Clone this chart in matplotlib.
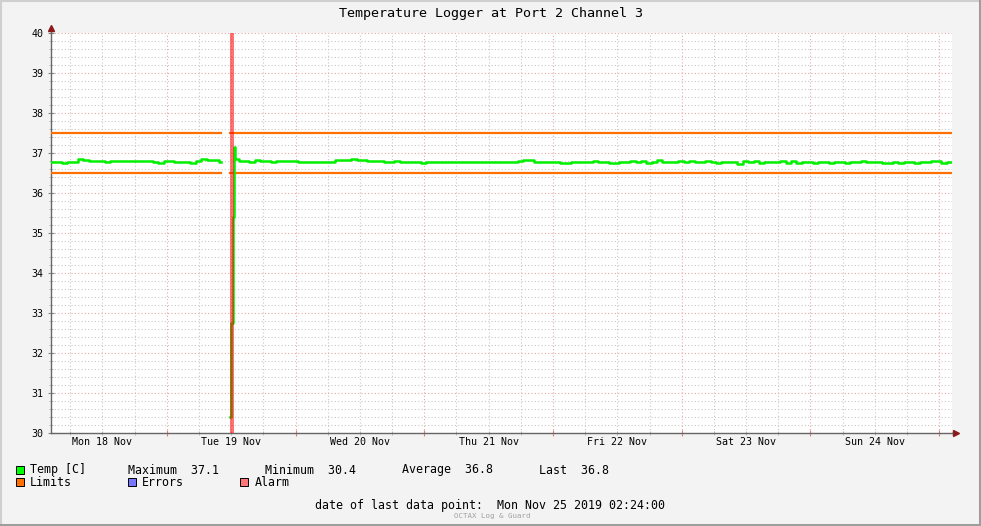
import matplotlib
matplotlib.use('Agg')
import matplotlib.pyplot as plt
import matplotlib.dates as mdates
from matplotlib.ticker import MultipleLocator
from matplotlib.lines import Line2D
from matplotlib.patches import Rectangle
import numpy as np
from datetime import datetime, timedelta

plt.rcParams['font.family'] = 'DejaVu Sans Mono'

# Data
title = 'Temperature Logger at Port 2 Channel 3'
start = datetime(2019, 11, 18, 2, 24)
end = datetime(2019, 11, 25, 2, 24)

# hours after start / temperature in C (nan = no data)
hours = (list(range(0, 32)) + [31.3, 31.7, 33.3, 33.65, 33.9, 34.15, 34.4]
         + list(range(35, 169)))
temp = [
    36.77, 36.77, 36.76, 36.77, 36.78, 36.84, 36.83, 36.81, 36.81, 36.79, 36.78, 36.81,
    36.81, 36.80, 36.79, 36.79, 36.80, 36.79, 36.80, 36.77, 36.76, 36.79, 36.79, 36.78,
    36.78, 36.77, 36.76, 36.79, 36.84, 36.83, 36.83, 36.82,
    36.77, np.nan, 30.4, 32.75, 35.4, 37.15, 36.86,
    36.81, 36.81, 36.77, 36.83, 36.79, 36.80, 36.78, 36.80, 36.79, 36.81, 36.80, 36.78,
    36.78, 36.78, 36.78, 36.78, 36.78, 36.78, 36.82, 36.83, 36.83, 36.84, 36.82, 36.82,
    36.81, 36.80, 36.79, 36.77, 36.78, 36.79, 36.78, 36.78,
    36.78, 36.77, 36.74, 36.77, 36.78, 36.77, 36.78, 36.77, 36.78, 36.77, 36.77, 36.78,
    36.77, 36.78, 36.77, 36.77, 36.78, 36.77, 36.77, 36.77, 36.79, 36.83, 36.83, 36.77,
    36.77, 36.78, 36.77, 36.77, 36.74, 36.76, 36.77, 36.78, 36.77,
    36.77, 36.80, 36.78, 36.77, 36.76, 36.74, 36.77, 36.78, 36.80, 36.78, 36.80, 36.74,
    36.77, 36.82, 36.78, 36.77, 36.78, 36.80, 36.77, 36.80, 36.78, 36.77, 36.80, 36.77,
    36.75, 36.78, 36.77, 36.77, 36.73, 36.80, 36.77, 36.80, 36.75, 36.78,
    36.77, 36.78, 36.81, 36.74, 36.80, 36.74, 36.77, 36.78, 36.74, 36.77, 36.78, 36.74,
    36.77, 36.77, 36.74, 36.77, 36.78, 36.80, 36.78, 36.77, 36.77, 36.76, 36.74, 36.77,
    36.74, 36.77, 36.78, 36.74, 36.77, 36.78, 36.81, 36.80, 36.74, 36.77, 36.77,
]

lower_limit = 36.5
upper_limit = 37.5
alarm_from = 33.3   # hours after start
alarm_to = 34.2

stat_names = ['Maximum', 'Minimum', 'Average', 'Last']
stat_values = ['37.1', '30.4', '36.8', '36.8']
last_point = 'Mon Nov 25 2019 02:24:00'

W, H = 981, 526
fig = plt.figure(figsize=(W / 100, H / 100), dpi=100, facecolor='#F3F3F3')


def fx(x):
    return x / W


def fy(y):
    return 1 - y / H


ax = fig.add_axes([fx(51), fy(433), 901 / W, 400 / H])
ax.set_facecolor('white')

times = [start + timedelta(hours=h) for h in hours]
temp = np.array(temp)
has_data = ~np.isnan(temp)
low = np.where(has_data, lower_limit, np.nan)
high = np.where(has_data, upper_limit, np.nan)

ax.plot(times, low, color='#FF7000', lw=1.6, drawstyle='steps-post', zorder=3)
ax.plot(times, high, color='#FF7000', lw=1.6, drawstyle='steps-post', zorder=3)
ax.plot(times, temp, color='#00F000', lw=1.8, drawstyle='steps-post', zorder=4)
ax.axvspan(start + timedelta(hours=alarm_from), start + timedelta(hours=alarm_to),
           color='#FF0000', alpha=0.55, lw=0, zorder=5)

ax.set_xlim(start, end)
ax.set_ylim(30, 40)

# grid
ax.xaxis.set_major_locator(mdates.DayLocator())
ax.xaxis.set_minor_locator(mdates.HourLocator(byhour=[0, 6, 12, 18]))
ax.xaxis.set_major_formatter(plt.NullFormatter())
ax.yaxis.set_major_locator(MultipleLocator(1))
ax.yaxis.set_minor_locator(MultipleLocator(0.2))
ax.set_axisbelow(True)
ax.grid(which='major', color='#E4A8A8', linestyle=(0, (1, 2)), lw=0.8)
ax.grid(which='minor', color='#C8C8C8', linestyle=(0, (1, 2)), lw=0.8)
ax.tick_params(which='major', axis='x', direction='inout', length=5, color='#E08080')
ax.tick_params(which='minor', axis='x', direction='inout', length=3, color='#B0B0B0')
ax.tick_params(which='major', axis='y', direction='inout', length=5, color='#888888',
               labelsize=7.2, pad=3)
ax.tick_params(which='minor', axis='y', direction='inout', length=3, color='#B0B0B0')

for side in ['top', 'right']:
    ax.spines[side].set_visible(False)
for side in ['left', 'bottom']:
    ax.spines[side].set_color('#666666')
    ax.spines[side].set_linewidth(1)

# axis arrows
ax.plot([0, 0], [1, 1.012], color='#666666', lw=1, transform=ax.transAxes, clip_on=False)
ax.plot([0], [1.0125], marker='^', ms=5, color='#8B1A1A', transform=ax.transAxes, clip_on=False)
ax.plot([1, 1.004], [0, 0], color='#666666', lw=1, transform=ax.transAxes, clip_on=False)
ax.plot([1.0045], [0], marker='>', ms=5, color='#8B1A1A', transform=ax.transAxes, clip_on=False)

# day labels at noon
for i in range(7):
    d = datetime(2019, 11, 18) + timedelta(days=i)
    ax.text(d + timedelta(hours=12), -0.0225, f'{d:%a} {d.day} {d:%b}',
            transform=ax.get_xaxis_transform(), ha='center', va='center', fontsize=7.2)

fig.text(fx(491), fy(13), title, ha='center', va='center', fontsize=9.6)

# legend
def box(x, y, color):
    fig.add_artist(Rectangle((fx(x), fy(y + 4)), 8 / W, 8 / H, transform=fig.transFigure,
                             facecolor=color, edgecolor='black', lw=0.7))


row1, row2 = 470, 482
box(16, row1, '#00FF00')
fig.text(fx(30), fy(row1), 'Temp [C]', va='center', fontsize=8.4)
for k, (name, val) in enumerate(zip(stat_names, stat_values)):
    sep = '  ' if name == 'Last' else '  '
    fig.text(fx(128 + 137 * k), fy(row1), f'{name}{sep}{val}', va='center', fontsize=8.4)
box(16, row2, '#FF7000')
fig.text(fx(30), fy(row2), 'Limits', va='center', fontsize=8.4)
box(128, row2, '#7777FF')
fig.text(fx(142), fy(row2), 'Errors', va='center', fontsize=8.4)
box(240, row2, '#FF7777')
fig.text(fx(255), fy(row2), 'Alarm', va='center', fontsize=8.4)

fig.text(fx(315), fy(506), f'date of last data point:  {last_point}', va='center', fontsize=8.4)
fig.text(fx(492), fy(516), 'OCTAX Log & Guard', ha='center', va='center', fontsize=5.3,
         color='#A0A0A0')

# frame
fig.add_artist(Line2D([0, 1], [fy(1), fy(1)], transform=fig.transFigure, color='#CFCFCF', lw=1.5))
fig.add_artist(Line2D([fx(1), fx(1)], [0, 1], transform=fig.transFigure, color='#CFCFCF', lw=1.5))
fig.add_artist(Line2D([0, 1], [fy(H - 1.5), fy(H - 1.5)], transform=fig.transFigure,
                      color='#9E9E9E', lw=2.2))
fig.add_artist(Line2D([fx(W - 1.5), fx(W - 1.5)], [0, 1], transform=fig.transFigure,
                      color='#9E9E9E', lw=2.2))

fig.savefig('out.png', dpi=100, facecolor=fig.get_facecolor())
